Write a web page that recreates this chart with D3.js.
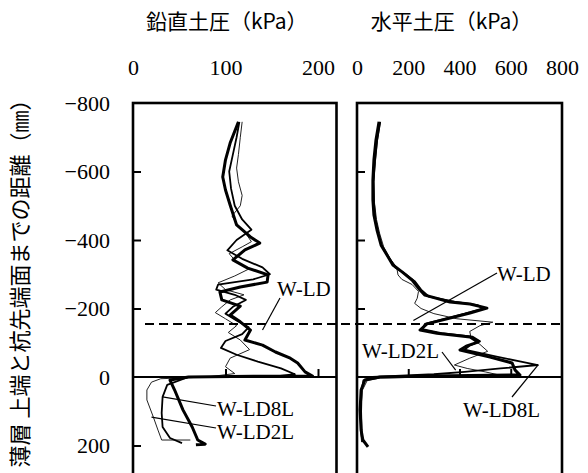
<!DOCTYPE html>
<html>
<head>
<meta charset="utf-8">
<script src="https://cdn.jsdelivr.net/npm/d3@7"></script>
<style>
body { margin: 0; background: #fff; }
</style>
</head>
<body>
<div id="chart"></div>
<script>
// depth (mm) from top of thin layer to pile tip face, negative = above
// [value, depth] pairs
const vertLD = [[114,-745],[105,-683],[100,-634],[97,-584],[100,-546],[105,-502],[112,-444],[127,-409],[137,-391],[121,-371],[108,-342],[124,-318],[146,-298],[145,-277],[116,-263],[94,-248],[96,-225],[116,-207],[105,-181],[116,-161],[127,-137],[121,-108],[140,-93],[154,-73],[170,-55],[178,-41],[186,-15],[194,-3],[130,-2],[60,0],[40,9],[45,38],[54,96],[64,146],[70,184],[78,196],[68,198]];
const vertLD8L = [[115,-745],[112,-700],[108,-650],[104,-600],[106,-550],[110,-500],[118,-460],[128,-430],[112,-400],[102,-370],[118,-345],[140,-320],[148,-300],[130,-285],[92,-270],[90,-255],[110,-240],[122,-225],[108,-205],[100,-185],[112,-165],[125,-145],[118,-125],[100,-105],[95,-85],[112,-65],[135,-45],[160,-25],[175,-8],[150,0],[60,0],[37,23],[32,58],[31,105],[32,146],[40,178],[53,193]];
const vertLD2L = [[118,-745],[116,-700],[114,-650],[112,-610],[114,-570],[118,-530],[116,-500],[107,-470],[114,-440],[123,-415],[128,-395],[118,-380],[104,-360],[112,-335],[125,-315],[110,-295],[92,-275],[100,-255],[120,-240],[105,-225],[96,-205],[89,-188],[100,-170],[112,-150],[103,-130],[116,-108],[126,-80],[105,-55],[100,-30],[110,-10],[80,0],[30,5],[20,15],[15,38],[15,67],[22,117],[27,155],[31,184],[62,184]];

const horzLD = [[86,-745],[74,-692],[66,-634],[62,-575],[62,-517],[66,-473],[78,-429],[94,-385],[117,-356],[140,-327],[176,-307],[215,-283],[246,-254],[265,-239],[363,-219],[441,-213],[507,-201],[441,-187],[363,-172],[273,-155],[246,-137],[312,-128],[441,-117],[472,-102],[429,-91],[402,-79],[519,-58],[605,-41],[617,-20],[636,-6],[285,-3],[90,0],[31,9],[16,38],[12,96],[16,155],[23,184],[43,204]];
const horzLD8L = [[90,-745],[78,-690],[70,-630],[64,-570],[66,-510],[72,-460],[84,-420],[98,-380],[122,-350],[150,-320],[190,-300],[225,-280],[250,-255],[280,-235],[380,-220],[470,-210],[490,-200],[420,-185],[340,-170],[265,-155],[255,-140],[330,-128],[450,-118],[480,-104],[440,-92],[420,-80],[540,-60],[640,-45],[706,-35],[560,-25],[420,-15],[300,-8],[150,-3],[60,0],[25,10],[18,40],[16,100],[18,160],[22,190]];
const horzLD2L = [[92,-745],[80,-690],[72,-630],[66,-570],[68,-510],[76,-460],[88,-420],[104,-380],[130,-345],[155,-320],[160,-298],[175,-285],[215,-270],[240,-250],[235,-230],[225,-215],[250,-200],[300,-185],[390,-170],[530,-160],[480,-150],[440,-133],[445,-115],[480,-95],[510,-75],[440,-55],[380,-35],[430,-25],[500,-15],[560,-5],[300,0],[90,3],[40,10],[20,40],[15,100],[14,160],[18,190]];

const vertTicks = [0, 100, 200];
const horzTicks = [0, 200, 400, 600, 800];
const depthTicks = [-800, -600, -400, -200, 0, 200];
const layerTop = -155;

const SERIF = '"Liberation Serif", "DejaVu Serif", serif';
const JP = '"Noto Sans CJK JP", sans-serif';

const W = 588, H = 473;
const svg = d3.select("#chart").append("svg")
	.attr("width", W)
	.attr("height", H);

const y = d3.scaleLinear().domain([-800, 300]).range([103, 479.75]);
const x1 = d3.scaleLinear().domain([0, 220]).range([133, 336.5]);
const x2 = d3.scaleLinear().domain([0, 800]).range([357, 562]);

const panels = [
	{x: x1, ticks: vertTicks, inner: [100, 200], series: [vertLD2L, vertLD8L, vertLD], title: "鉛直土圧（kPa）"},
	{x: x2, ticks: horzTicks, inner: [200, 400, 600], series: [horzLD2L, horzLD8L, horzLD], title: "水平土圧（kPa）"}
];
const widths = [1, 1.8, 3];

function serif(sel, size) {
	sel.style("font-family", SERIF).style("font-size", size + "px").attr("fill", "#000");
}

panels.forEach((p, i) => {
	const [a, b] = p.x.range();
	const g = svg.append("g");
	g.append("clipPath").attr("id", "clip" + i)
		.append("rect").attr("x", a).attr("y", y(-800)).attr("width", b - a).attr("height", H);

	// lines
	p.series.forEach((s, k) => {
		g.append("path")
			.datum(s)
			.attr("clip-path", `url(#clip${i})`)
			.attr("d", d3.line().x(d => p.x(d[0])).y(d => y(d[1])))
			.attr("fill", "none")
			.attr("stroke", k === 0 ? "#222" : "#000")
			.attr("stroke-width", widths[k])
			.attr("stroke-linejoin", "round");
	});

	// zero line
	g.append("line")
		.attr("x1", a).attr("x2", b)
		.attr("y1", y(0)).attr("y2", y(0))
		.attr("stroke", "#000").attr("stroke-width", 2.2);

	// frame (bottom edge is below the picture)
	g.append("rect")
		.attr("x", a).attr("y", y(-800))
		.attr("width", b - a).attr("height", H)
		.attr("fill", "none").attr("stroke", "#000").attr("stroke-width", 2.6);

	// top tick labels
	const top = g.append("g")
		.attr("transform", "translate(0,80)")
		.call(d3.axisTop(p.x).tickValues(p.ticks).tickSize(0).tickPadding(5).tickFormat(d3.format("d")));
	top.select(".domain").remove();
	top.selectAll("text").call(serif, 22);

	// ticks on the zero line
	const inner = g.append("g")
		.attr("transform", `translate(0,${y(0)})`)
		.call(d3.axisTop(p.x).tickValues(p.inner).tickSize(8).tickFormat(""));
	inner.select(".domain").remove();
	inner.selectAll("line").attr("stroke-width", 2);

	// inward depth ticks
	const side = g.append("g")
		.attr("transform", `translate(${a},0)`)
		.call(d3.axisRight(y).tickValues(i === 0 ? [-600, -400, -200, 200] : [-600, -400, -200]).tickSize(8).tickFormat(""));
	side.select(".domain").remove();
	side.selectAll("line").attr("stroke-width", 2);

	// title
	g.append("text")
		.style("font-family", JP).style("font-size", "21px")
		.attr("x", (a + b) / 2 - 8)
		.attr("y", 29)
		.attr("text-anchor", "middle")
		.text(p.title);
});

// depth labels
const left = svg.append("g")
	.attr("transform", `translate(${x1.range()[0]},0)`)
	.call(d3.axisLeft(y).tickValues(depthTicks).tickSize(0).tickPadding(23));
left.select(".domain").remove();
left.selectAll("text").call(serif, 22);

// dashed line at top of thin layer
svg.append("line")
	.attr("x1", 145).attr("x2", x2.range()[1])
	.attr("y1", y(layerTop)).attr("y2", y(layerTop))
	.attr("stroke", "#000").attr("stroke-width", 2)
	.attr("stroke-dasharray", "9,5");

// y title
svg.append("text")
	.style("font-family", JP).style("font-size", "22px")
	.attr("transform", "translate(28,278) rotate(-90)")
	.attr("text-anchor", "middle")
	.text("薄層 上端と杭先端面までの距離（㎜）");

// series labels with leaders: [x scale, label, text x, baseline, leader from, leader to (value, depth)]
const labels = [
	[x1, "W-LD", 277, 296, [280, 298], [140, -137]],
	[x1, "W-LD8L", 217, 416, [216, 406], [32, 58]],
	[x1, "W-LD2L", 217, 439, [216, 428], [20, 117]],
	[x2, "W-LD", 497, 281, [497, 273], [220, -165]],
	[x2, "W-LD2L", 362, 358, [442, 352], [385, -20]],
	[x2, "W-LD8L", 463, 417, [512, 397], [706, -35]]
];
labels.forEach(([sx, t, tx, ty, from, to]) => {
	svg.append("line")
		.attr("x1", from[0]).attr("y1", from[1])
		.attr("x2", sx(to[0])).attr("y2", y(to[1]))
		.attr("stroke", "#000").attr("stroke-width", 1.2);
	svg.append("text")
		.call(serif, 21)
		.attr("x", tx).attr("y", ty)
		.text(t);
});
</script>
</body>
</html>
